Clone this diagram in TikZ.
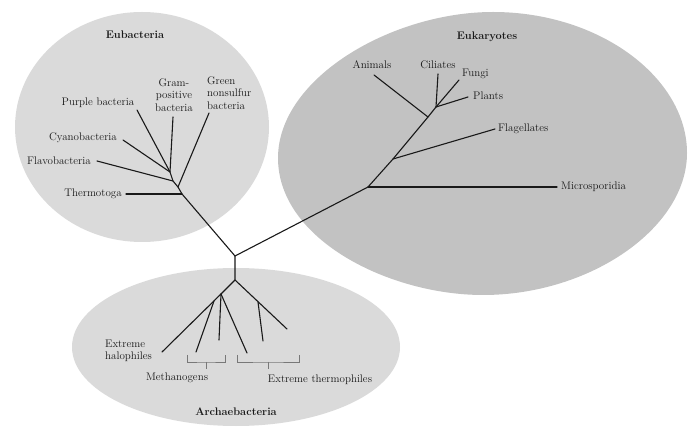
\documentclass[tikz,border=0pt]{standalone}
\definecolor{lightg}{RGB}{218,218,218}
\definecolor{darkg}{RGB}{194,194,194}
\definecolor{brk}{RGB}{120,120,120}
\definecolor{ink}{RGB}{25,25,25}
\begin{document}
\begin{tikzpicture}[x=1pt,y=-1pt,
  every node/.style={font=\fontsize{11}{12.5}\selectfont, inner sep=0pt, text=ink},
  grp/.style={font=\fontsize{11}{12.5}\selectfont\bfseries},
  branch/.style={line width=1.1pt, draw=ink, line cap=round, line join=round},
  bracket/.style={line width=0.8pt, draw=brk}]
\useasboundingbox (0,0) rectangle (688,427);
\begin{scope}
\clip (0,0) rectangle (688,427);
\fill[lightg] (142,127) ellipse [x radius=127pt, y radius=115pt];
\fill[darkg] (493,12)
  .. controls (392,12) and (278,78) .. (278,158)
  .. controls (278,240) and (390,295) .. (483,295)
  .. controls (590,295) and (687,228) .. (687,153)
  .. controls (687,78) and (600,12) .. (493,12) -- cycle;
\fill[lightg] (236,347) ellipse [x radius=164pt, y radius=79pt];
\end{scope}

% group titles
\node[grp] (teub) at (135,35) {Eubacteria};
\node[grp] (teuk) at (487,37) {Eukaryotes};
\node[grp] (tarc) at (236,412) {Archaebacteria};

% eubacteria labels
\node (lpur) at (98,103) {Purple bacteria};
\node[align=center] (lgram) at (174,95) {Gram-\\positive\\bacteria};
\node[align=left, anchor=west] (lgreen) at (207,93) {Green\\nonsulfur\\bacteria};
\node (lcyan) at (83,138) {Cyanobacteria};
\node (lflav) at (59,161) {Flavobacteria};
\node (lther) at (93,194) {Thermotoga};

% eukaryote labels
\node (lani) at (372,65) {Animals};
\node (lcil) at (438,65) {Ciliates};
\node[anchor=west] (lfun) at (462,74) {Fungi};
\node[anchor=west] (lpla) at (473,96) {Plants};
\node[anchor=west] (lfla) at (498,129) {Flagellates};
\node[anchor=west] (lmic) at (561,187) {Microsporidia};

% archaea labels
\node[align=left, anchor=west] (lhal) at (105,351) {Extreme\\halophiles};
\node (lmet) at (177,378) {Methanogens};
\node (lthe) at (320,380) {Extreme thermophiles};

% tree coordinates
\coordinate (root) at (235,256);
\coordinate (euA) at (182,194);
\coordinate (euB) at (178,187);
\coordinate (euC) at (173,181);
\coordinate (euD) at (170,172);
\coordinate (eThe) at (126,194);
\coordinate (eGre) at (209,113);
\coordinate (eFla) at (97,161);
\coordinate (eCya) at (123,140);
\coordinate (ePur) at (137,110);
\coordinate (eGra) at (173,117);

\coordinate (ekA) at (368,187);
\coordinate (ekB) at (393,159);
\coordinate (ekC) at (428,117);
\coordinate (ekD) at (436,107);
\coordinate (kMic) at (557,187);
\coordinate (kFla) at (495,129);
\coordinate (kAni) at (374,75);
\coordinate (kCil) at (438,74);
\coordinate (kFun) at (459,80);
\coordinate (kPla) at (468,97);

\coordinate (arc) at (235,280);
\coordinate (arL) at (221,294);
\coordinate (arM) at (214,301);
\coordinate (arS) at (258,302);
\coordinate (aHal) at (162,352);
\coordinate (aMe1) at (196,352);
\coordinate (aMe2) at (219,340);
\coordinate (aTh1) at (247,353);
\coordinate (aTh2) at (263,341);
\coordinate (aTh3) at (287,329);

% eubacteria branches
\draw[branch] (root) -- (euA) -- (euB) -- (euC) -- (euD) -- (eGra);
\draw[branch] (euA) -- (eThe);
\draw[branch] (euB) -- (eGre);
\draw[branch] (euC) -- (eFla);
\draw[branch] (euD) -- (eCya);
\draw[branch] (euD) -- (ePur);

% eukaryote branches
\draw[branch] (root) -- (ekA) -- (ekB) -- (ekC) -- (ekD) -- (kCil);
\draw[branch] (ekA) -- (kMic);
\draw[branch] (ekB) -- (kFla);
\draw[branch] (ekC) -- (kAni);
\draw[branch] (ekD) -- (kFun);
\draw[branch] (ekD) -- (kPla);

% archaea branches
\draw[branch] (root) -- (arc) -- (arL) -- (aHal);
\draw[branch] (arM) -- (aMe1);
\draw[branch] (arL) -- (aMe2);
\draw[branch] (arL) -- (aTh1);
\draw[branch] (arc) -- (aTh3);
\draw[branch] (arS) -- (aTh2);

% brackets
\coordinate (bm1) at (187,355);
\coordinate (bm2) at (225,355);
\coordinate (bmc) at (206,362);
\coordinate (bmt) at (206,369);
\coordinate (bt1) at (237,355);
\coordinate (bt2) at (299,355);
\coordinate (btc) at (268,362);
\coordinate (btt) at (268,369);
\draw[bracket] (bm1) |- (bmc) -| (bm2);
\draw[bracket] (bmc) -- (bmt);
\draw[bracket] (bt1) |- (btc) -| (bt2);
\draw[bracket] (btc) -- (btt);
\end{tikzpicture}
\end{document}
